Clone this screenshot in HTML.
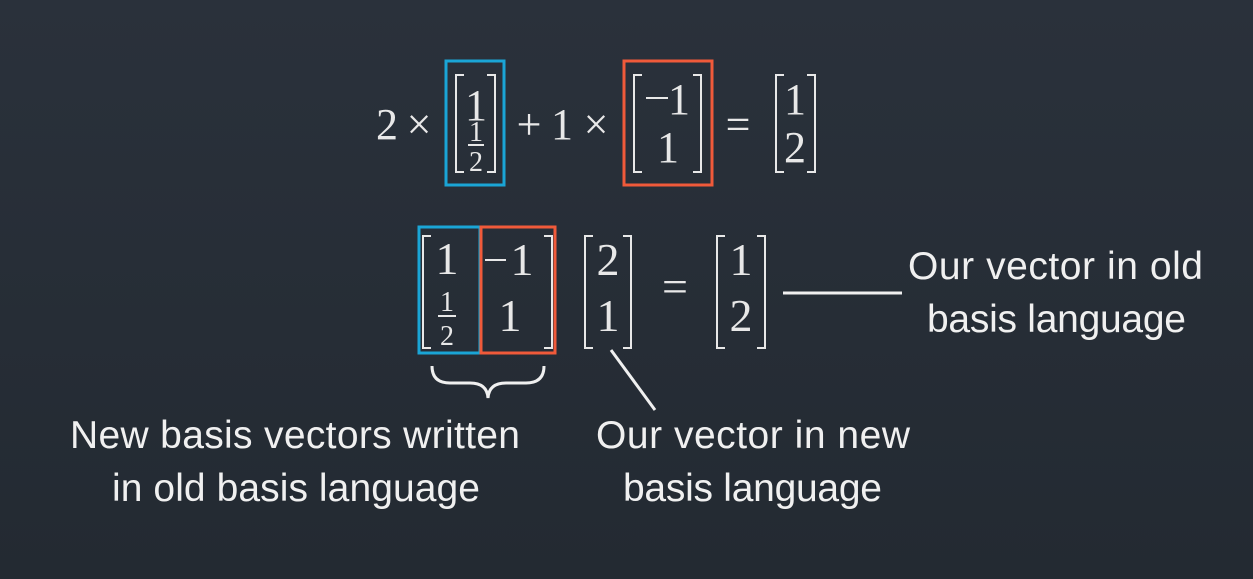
<!DOCTYPE html>
<html><head><style>
html,body{margin:0;padding:0;}
body{width:1253px;height:579px;overflow:hidden;background:linear-gradient(180deg,#2a313b 0%,#232a32 100%);}
svg{display:block}
.m{font-family:"Liberation Serif",serif;fill:#e8e8e8;}
.s{font-family:"Liberation Sans",sans-serif;fill:#f0f0f0;font-size:39px;}
</style></head><body>
<svg width="1253" height="579" viewBox="0 0 1253 579">
<g stroke="#e8e8e8" stroke-width="2" fill="none">
<path d="M464,75 H456 V172 H464"/><path d="M487,75 H495 V172 H487"/>
<path d="M642,75 H634 V172 H642"/><path d="M693,75 H701 V172 H693"/>
<path d="M784,75 H776 V172 H784"/><path d="M807,75 H815 V172 H807"/>
<path d="M431,236 H423 V348 H431"/><path d="M544,236 H552 V348 H544"/>
<path d="M593,236 H585 V348 H593"/><path d="M623,236 H631 V348 H623"/>
<path d="M725,236 H717 V348 H725"/><path d="M757,236 H765 V348 H757"/>
<line x1="468" y1="145" x2="484" y2="145"/>
<line x1="438" y1="316" x2="456" y2="316"/>
<line x1="646" y1="98" x2="668" y2="98" />
<line x1="485" y1="260" x2="506" y2="260"/>
</g>
<rect x="446" y="61" width="58" height="124" fill="none" stroke="#1aa5d6" stroke-width="3"/>
<rect x="624" y="61" width="88" height="124" fill="none" stroke="#f05a3a" stroke-width="3"/>
<rect x="419" y="227" width="61" height="126" fill="none" stroke="#1aa5d6" stroke-width="3"/>
<rect x="481" y="227" width="74" height="126" fill="none" stroke="#f05a3a" stroke-width="3"/>
<g class="m" font-size="44" text-anchor="middle">
<text x="387" y="139">2</text>
<text x="419" y="139">×</text>
<text x="476" y="120">1</text>
<text x="476" y="141" font-size="28">1</text>
<text x="476" y="171" font-size="28">2</text>
<text x="529" y="139">+</text>
<text x="562" y="139">1</text>
<text x="596" y="139">×</text>
<text x="679" y="114">1</text>
<text x="668" y="162">1</text>
<text x="738" y="139">=</text>
<text x="795" y="114">1</text>
<text x="795" y="162">2</text>
<text x="447" y="274" font-size="46">1</text>
<text x="447" y="311" font-size="28">1</text>
<text x="447" y="345" font-size="28">2</text>
<text x="522" y="275" font-size="46">1</text>
<text x="510" y="331" font-size="46">1</text>
<text x="608" y="275" font-size="46">2</text>
<text x="608" y="331" font-size="46">1</text>
<text x="675" y="302" font-size="46">=</text>
<text x="741" y="275" font-size="46">1</text>
<text x="741" y="331" font-size="46">2</text>
</g>
<g stroke="#f0f0f0" stroke-width="3" fill="none">
<line x1="783" y1="293" x2="902" y2="293"/>
<line x1="611" y1="350" x2="655" y2="410"/>
<path d="M432,366 Q432,383 450,383 H470 Q487,383 488,398 Q489,383 506,383 H526 Q544,383 544,366"/>
</g>
<g class="s">
<text x="908" y="279" textLength="295">Our vector in old</text>
<text x="927" y="332" textLength="259">basis language</text>
<text x="70" y="448" textLength="450">New basis vectors written</text>
<text x="112" y="501" textLength="368">in old basis language</text>
<text x="596" y="448" textLength="314">Our vector in new</text>
<text x="623" y="501" textLength="259">basis language</text>
</g>
</svg>
</body></html>
